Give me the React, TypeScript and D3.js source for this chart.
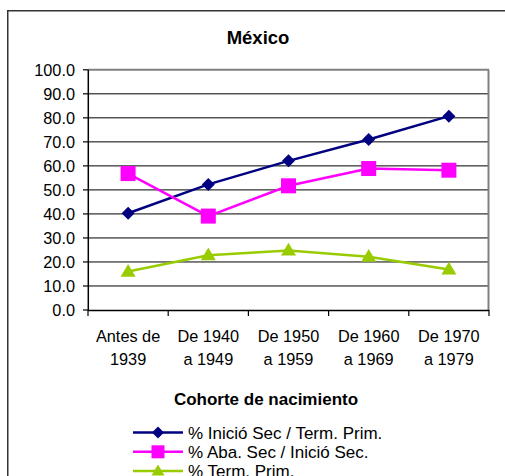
import React from "react";
import * as d3 from "d3";

const categories: string[][] = [
  ["Antes de", "1939"],
  ["De 1940", "a 1949"],
  ["De 1950", "a 1959"],
  ["De 1960", "a 1969"],
  ["De 1970", "a 1979"],
];
const inicioSec = [40.3, 52.3, 62.1, 71.0, 80.7];
const abaSec = [56.8, 39.1, 51.7, 58.9, 58.2];
const termPrim = [16.0, 22.8, 24.8, 22.2, 16.9];
const yTicks = [0, 10, 20, 30, 40, 50, 60, 70, 80, 90, 100];
const seriesNames = [
  "% Inició Sec / Term. Prim.",
  "% Aba. Sec / Inició Sec.",
  "% Term. Prim.",
];
const seriesColors = ["#000080", "#FF00FF", "#99CC00"];
const seriesShapes = ["diamond", "square", "triangle"];

const W = 505;
const H = 476;
const FONT = "'Liberation Sans', Arial, sans-serif";

function Marker({ shape, x, y, color, size }: { shape: string; x: number; y: number; color: string; size: number }) {
  if (shape === "diamond") {
    const r = size / 2;
    return <path d={`M${x},${y - r}L${x + r},${y}L${x},${y + r}L${x - r},${y}Z`} fill={color} />;
  }
  if (shape === "square") {
    const r = size / 2;
    return <rect x={x - r} y={y - r} width={size} height={size} fill={color} />;
  }
  const hw = size / 2;
  const h = size * 0.85;
  return <path d={`M${x},${y - h * 0.6}L${x + hw},${y + h * 0.4}L${x - hw},${y + h * 0.4}Z`} fill={color} />;
}

export default function App() {
  const x = d3
    .scaleBand<number>()
    .domain(d3.range(categories.length))
    .range([88, 489]);
  const y = d3.scaleLinear().domain([0, 100]).range([310, 69.8]);
  const cx = (i: number) => (x(i) as number) + x.bandwidth() / 2;
  const series = [inicioSec, abaSec, termPrim];
  const line = d3
    .line<number>()
    .x((_, i) => cx(i))
    .y((d) => y(d));
  const markerSizes = [13, 15, 15];
  const boundaries = d3.range(categories.length + 1).map((i) => 88 + i * x.bandwidth());

  return (
    <svg
      width={W}
      height={H}
      style={{ position: "absolute", left: 0, top: 0, background: "#fff" }}
      fontFamily={FONT}
    >
      <rect x={0} y={0} width={W} height={H} fill="#fff" />
      <rect x={7.75} y={10.75} width={W + 10} height={H + 10} fill="none" stroke="#333" strokeWidth={1.5} />
      <text x={258} y={44} textAnchor="middle" fontSize={18.5} fontWeight="bold" fill="#000">
        México
      </text>
      {/* gridlines */}
      {yTicks.map((t) => (
        <g key={t}>
          {t > 0 && t < 100 && (
            <line x1={88} x2={488} y1={y(t)} y2={y(t)} stroke="#000" strokeWidth={1} />
          )}
          <line x1={83} x2={88} y1={y(t)} y2={y(t)} stroke="#000" strokeWidth={1.2} />
          <text x={75} y={y(t)} dy="0.36em" textAnchor="end" fontSize={16.3} fill="#000">
            {t.toFixed(1)}
          </text>
        </g>
      ))}
      {/* plot border top/right */}
      <line x1={88} x2={489} y1={y(100)} y2={y(100)} stroke="#808080" strokeWidth={2} />
      <line x1={488.5} x2={488.5} y1={y(100)} y2={310} stroke="#808080" strokeWidth={2} />
      {/* axes */}
      <line x1={88.3} x2={88.3} y1={y(100)} y2={310.5} stroke="#000" strokeWidth={1.5} />
      <line x1={88} x2={489} y1={310.5} y2={310.5} stroke="#000" strokeWidth={1.5} />
      {boundaries.map((b, i) => (
        <line key={i} x1={b} x2={b} y1={310} y2={316} stroke="#000" strokeWidth={1.2} />
      ))}
      {categories.map((c, i) => (
        <text key={i} textAnchor="middle" fontSize={16.3} fill="#000">
          <tspan x={cx(i)} y={342}>{c[0]}</tspan>
          <tspan x={cx(i)} y={365}>{c[1]}</tspan>
        </text>
      ))}
      <text x={266} y={405} textAnchor="middle" fontSize={17} fontWeight="bold" fill="#000">
        Cohorte de nacimiento
      </text>
      {/* series */}
      {series.map((s, si) => (
        <g key={si}>
          <path d={line(s) || ""} fill="none" stroke={seriesColors[si]} strokeWidth={2.5} />
          {s.map((v, i) => (
            <Marker key={i} shape={seriesShapes[si]} x={cx(i)} y={y(v)} color={seriesColors[si]} size={markerSizes[si]} />
          ))}
        </g>
      ))}
      {/* legend */}
      {seriesNames.map((n, i) => {
        const ly = 432.5 + i * 19.3;
        return (
          <g key={i}>
            <line x1={133} x2={183} y1={ly} y2={ly} stroke={seriesColors[i]} strokeWidth={2.5} />
            <Marker shape={seriesShapes[i]} x={158} y={ly} color={seriesColors[i]} size={i === 0 ? 12 : 13} />
            <text x={188} y={ly} dy="0.36em" fontSize={17} fill="#000">
              {n}
            </text>
          </g>
        );
      })}
    </svg>
  );
}
